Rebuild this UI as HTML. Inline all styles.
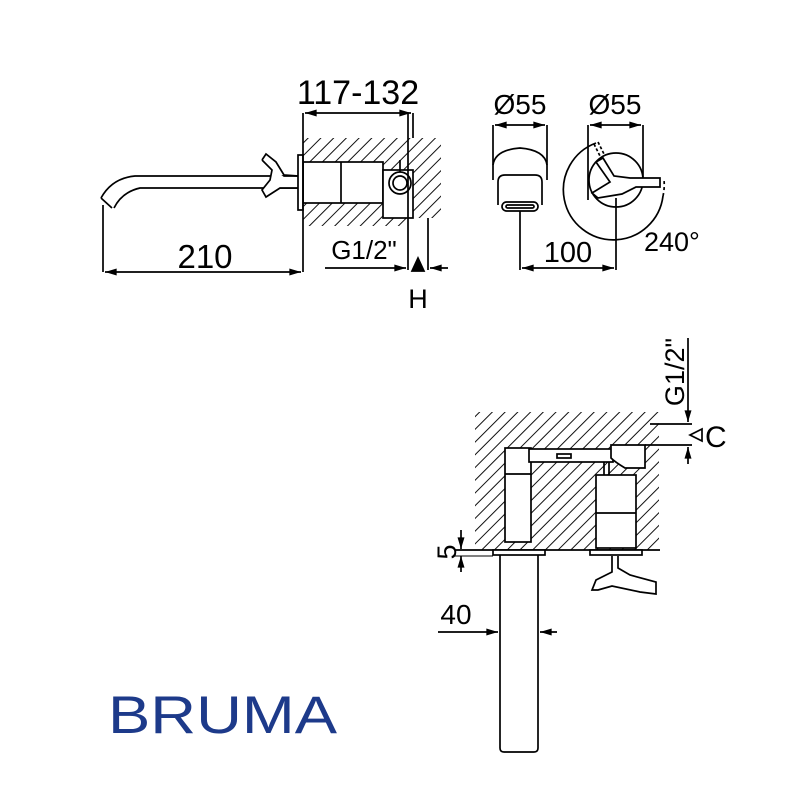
<!DOCTYPE html>
<html><head><meta charset="utf-8"><style>html,body{margin:0;padding:0;background:#fff}svg{display:block}</style></head>
<body>
<svg width="796" height="804" viewBox="0 0 796 804" xmlns="http://www.w3.org/2000/svg" font-family="Liberation Sans, sans-serif">
<defs>
<pattern id="h" width="9" height="9" patternUnits="userSpaceOnUse" patternTransform="rotate(45)">
<line x1="0" y1="0" x2="0" y2="9" stroke="#111" stroke-width="2"/>
</pattern>
<marker id="a" viewBox="0 0 10 6" refX="10" refY="3" markerWidth="17" markerHeight="7" markerUnits="userSpaceOnUse" orient="auto-start-reverse"><path d="M0,0L10,3L0,6z" fill="#000"/></marker>
</defs>
<g stroke="#000" stroke-width="1.7" fill="none">
<rect x="303" y="138" width="138" height="88" fill="url(#h)" stroke="none"/>
<rect x="408" y="218" width="33" height="10" fill="#fff" stroke="none"/>
<rect x="303" y="162" width="80" height="41" fill="#fff"/>
<line x1="341" y1="162" x2="341" y2="203"/>
<rect x="298" y="155" width="5" height="55" fill="#fff"/>
<rect x="383" y="170" width="30" height="48" fill="#fff"/>
<circle cx="400" cy="183" r="11" fill="#fff"/>
<circle cx="400" cy="183" r="7"/>
<line x1="400" y1="160" x2="400" y2="172"/>
<line x1="408" y1="113" x2="408" y2="270"/>
<line x1="428" y1="218" x2="428" y2="270"/>
<line x1="303" y1="113" x2="303" y2="272"/>
<line x1="413" y1="113" x2="413" y2="138"/>
<path d="M298,176 L135,176 Q112,178 101,198 M298,188 L140,188 Q122,192 114,208 M101,198 L112,208"/>
<path d="M262,160 L266,154 L276,162 L284,175 L298,176 M262,160 L272,170 L270,180 L262,190 L266,197 L280,188 L298,188" fill="#fff"/>
<line x1="103" y1="205" x2="103" y2="272"/>
<line x1="105" y1="272" x2="301" y2="272" marker-start="url(#a)" marker-end="url(#a)"/>
<line x1="305" y1="113" x2="411" y2="113" marker-start="url(#a)" marker-end="url(#a)"/>
<line x1="325" y1="268" x2="406" y2="268" marker-end="url(#a)"/>
<line x1="448" y1="268" x2="430" y2="268" marker-end="url(#a)"/>
<path d="M412,271 L418,258 L424,271z" fill="#000"/>
<line x1="493" y1="125" x2="493" y2="165"/>
<line x1="547" y1="125" x2="547" y2="165"/>
<line x1="495" y1="125" x2="545" y2="125" marker-start="url(#a)" marker-end="url(#a)"/>
<path d="M493,165 Q495,150 520,148 Q545,150 547,165 L547,180 M493,165 L493,180"/>
<path d="M498,205 L498,182 Q498,175 505,175 L535,175 Q542,175 542,182 L542,205" fill="#fff"/>
<rect x="502" y="202" width="36" height="9" rx="4.5" fill="#fff"/>
<rect x="506" y="205" width="28" height="3" rx="1.5"/>
<line x1="520" y1="211" x2="520" y2="270"/>
<line x1="522" y1="268" x2="614" y2="268" marker-start="url(#a)" marker-end="url(#a)"/>
<line x1="588" y1="125" x2="588" y2="200"/>
<line x1="643" y1="125" x2="643" y2="180"/>
<line x1="590" y1="125" x2="641" y2="125" marker-start="url(#a)" marker-end="url(#a)"/>
<path d="M596,143 A50,50 0 1 0 663,196"/>
<path d="M663,196 A50,50 0 0 0 664,180" stroke-dasharray="3,3"/>
<circle cx="616" cy="180" r="27" fill="#fff"/>
<path d="M603,158 L614,176 L630,178 L660,178 L660,187 L636,187 L622,194 L598,198 L592,193 L610,182 L596,162z" fill="#fff"/>
<path d="M594,144 L600,156 M598,142 L604,154" stroke-dasharray="3,2"/>
<line x1="616" y1="198" x2="616" y2="270"/>
<rect x="475" y="412" width="184" height="138" fill="url(#h)" stroke="none"/>
<rect x="505" y="448" width="26" height="94" fill="#fff"/>
<line x1="505" y1="474" x2="531" y2="474"/>
<rect x="529" y="449" width="84" height="13" fill="#fff"/>
<rect x="557" y="454" width="14" height="4"/>
<path d="M611,445 L645,445 L645,468 L625,468 Q615,462 611,458z" fill="#fff"/>
<line x1="604" y1="462" x2="604" y2="475"/>
<line x1="609" y1="462" x2="609" y2="475"/>
<rect x="596" y="475" width="40" height="73" fill="#fff"/>
<line x1="596" y1="513" x2="636" y2="513"/>
<line x1="455" y1="550" x2="660" y2="550"/>
<rect x="493" y="550" width="52" height="5" fill="#fff"/>
<rect x="590" y="550" width="52" height="5" fill="#fff"/>
<path d="M500,555 L500,748 Q500,752 504,752 L534,752 Q538,752 538,748 L538,555"/>
<path d="M612,556 L612,572 L596,580 L592,590 L598,590 L612,586 L640,592 L656,594 L656,582 L630,575 L618,568 L618,556"/>
<line x1="438" y1="632" x2="498" y2="632" marker-end="url(#a)"/>
<line x1="557" y1="632" x2="540" y2="632" marker-end="url(#a)"/>
<line x1="461" y1="530" x2="461" y2="549" marker-end="url(#a)"/>
<line x1="461" y1="572" x2="461" y2="556" marker-end="url(#a)"/>
<line x1="455" y1="556" x2="493" y2="556" stroke-width="1"/>
<line x1="688" y1="338" x2="688" y2="422" marker-end="url(#a)"/>
<line x1="650" y1="424" x2="692" y2="424"/>
<line x1="645" y1="445" x2="692" y2="445"/>
<line x1="688" y1="464" x2="688" y2="447" marker-end="url(#a)"/>
<path d="M690,435 L702,429 L702,441z" fill="#fff"/>
</g>
<g fill="#000" font-size="33">
<text x="358" y="104" text-anchor="middle" font-size="34">117-132</text>
<text x="205" y="268" text-anchor="middle">210</text>
<text x="364" y="259" text-anchor="middle" font-size="26">G1/2"</text>
<text x="418" y="308" text-anchor="middle" font-size="27">H</text>
<text x="520" y="114" text-anchor="middle" font-size="28">Ø55</text>
<text x="615" y="114" text-anchor="middle" font-size="28">Ø55</text>
<text x="568" y="262" text-anchor="middle" font-size="29">100</text>
<text x="644" y="251" font-size="27">240°</text>
<text x="456" y="624" text-anchor="middle" font-size="28">40</text>
<text transform="translate(456,552) rotate(-90)" text-anchor="middle" font-size="27">5</text>
<text transform="translate(684,372) rotate(-90)" text-anchor="middle" font-size="27">G1/2"</text>
<text x="705" y="447" font-size="30">C</text>
</g>
<text x="108" y="733" font-size="53" fill="#1d3a8a" textLength="229" lengthAdjust="spacingAndGlyphs">BRUMA</text>
</svg>
</body></html>
